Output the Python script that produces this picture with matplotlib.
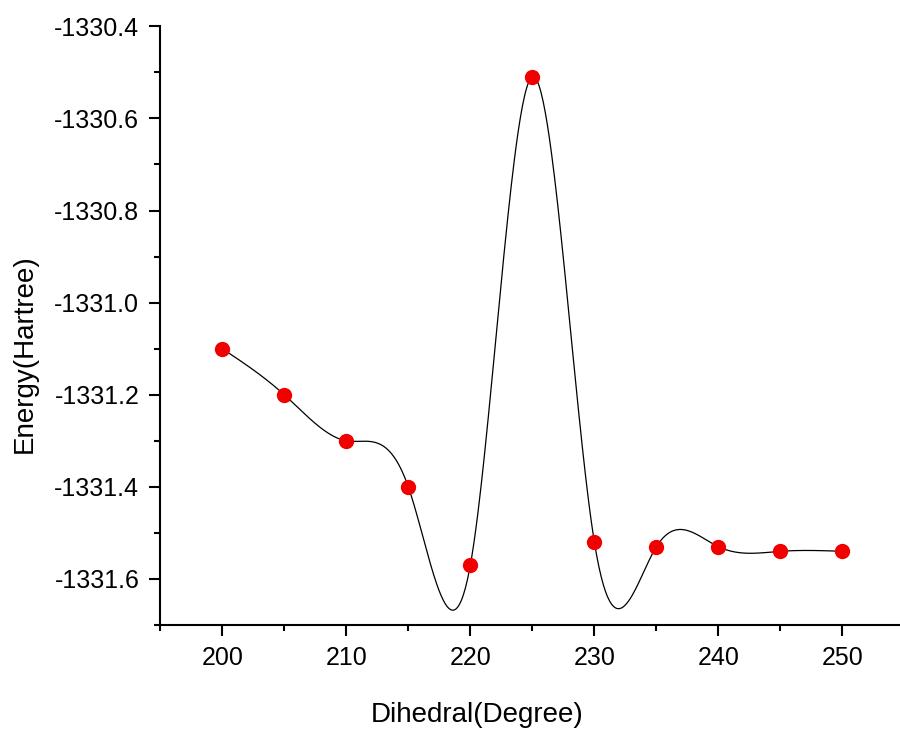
"""Dihedral scan energy profile with a spline through the computed points."""
import numpy as np
from matplotlib import pyplot as plt
from matplotlib.ticker import MultipleLocator

# scan data
dihedral = [200, 205, 210, 215, 220, 225, 230, 235, 240, 245, 250]
energy = [-1331.10, -1331.20, -1331.30, -1331.40, -1331.57, -1330.51,
          -1331.52, -1331.53, -1331.53, -1331.54, -1331.54]
x_ticks = [200, 210, 220, 230, 240, 250]
y_ticks = [-1331.6, -1331.4, -1331.2, -1331.0, -1330.8, -1330.6, -1330.4]


def natural_spline(x, y, n=600):
    """Natural cubic spline through (x, y), evaluated on n points."""
    x = np.asarray(x, float)
    y = np.asarray(y, float)
    h = np.diff(x)
    k = len(x)
    A = np.zeros((k, k))
    b = np.zeros(k)
    A[0, 0] = A[-1, -1] = 1
    for i in range(1, k - 1):
        A[i, i - 1] = h[i - 1]
        A[i, i] = 2 * (h[i - 1] + h[i])
        A[i, i + 1] = h[i]
        b[i] = 6 * ((y[i + 1] - y[i]) / h[i] - (y[i] - y[i - 1]) / h[i - 1])
    M = np.linalg.solve(A, b)
    xs = np.linspace(x[0], x[-1], n)
    idx = np.clip(np.searchsorted(x, xs) - 1, 0, k - 2)
    x0, x1 = x[idx], x[idx + 1]
    hh = x1 - x0
    t0, t1 = x1 - xs, xs - x0
    ys = (M[idx] * t0**3 + M[idx + 1] * t1**3) / (6 * hh) \
        + (y[idx] / hh - M[idx] * hh / 6) * t0 \
        + (y[idx + 1] / hh - M[idx + 1] * hh / 6) * t1
    return xs, ys


plt.rcParams['font.family'] = ['Liberation Sans', 'DejaVu Sans']

fig = plt.figure(figsize=(9, 7.31), dpi=100)
ax = fig.add_axes([0.178, 0.145, 0.827, 0.819])

xs, ys = natural_spline(dihedral, energy)
ax.plot(xs, ys, color='black', lw=0.9, zorder=2)
ax.plot(dihedral, energy, 'o', color='#f20000', markersize=10, zorder=3)

ax.set_xlim(195, 255)
ax.set_ylim(-1331.7, -1330.4)
ax.set_xticks(x_ticks)
ax.set_yticks(y_ticks)
ax.set_yticklabels([f'{v:.1f}' for v in y_ticks])
ax.xaxis.set_minor_locator(MultipleLocator(5))
ax.yaxis.set_minor_locator(MultipleLocator(0.1))

for s in ['top', 'right']:
    ax.spines[s].set_visible(False)
for s in ['left', 'bottom']:
    ax.spines[s].set_linewidth(1.5)
ax.tick_params(which='major', direction='out', length=8, width=1.5, labelsize=18, pad=7)
ax.tick_params(which='minor', direction='out', length=4.5, width=1.5)

ax.set_xlabel('Dihedral(Degree)', fontsize=20)
ax.set_ylabel('Energy(Hartree)', fontsize=20)
ax.xaxis.set_label_coords(0.426, -0.128)
ax.yaxis.set_label_coords(-0.165, 0.453)

fig.savefig('out.png', dpi=100)
